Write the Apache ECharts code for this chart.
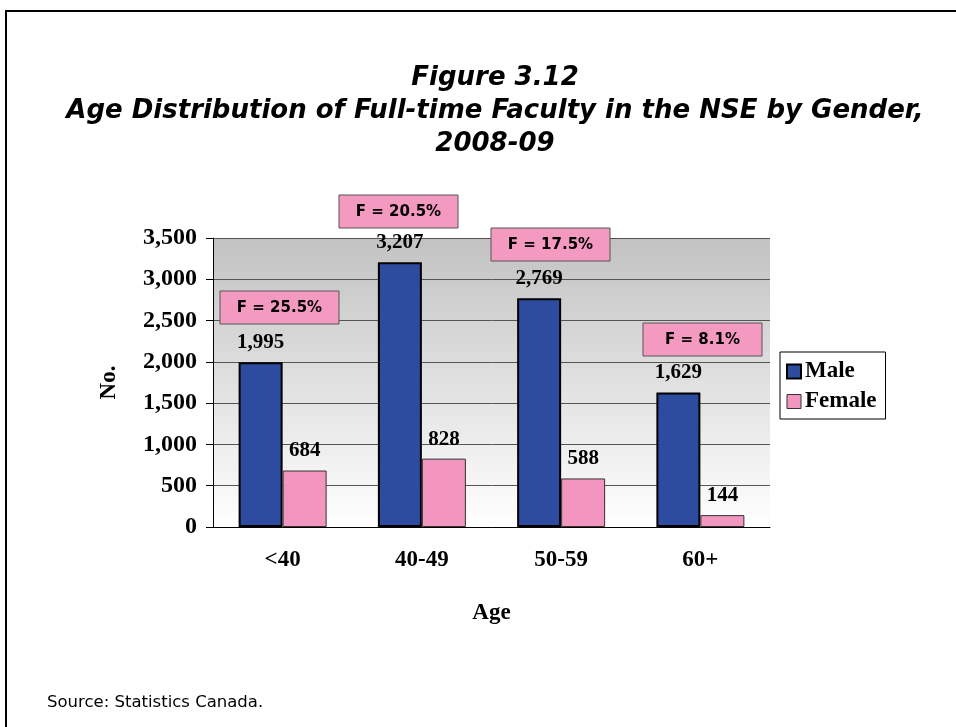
<!DOCTYPE html>
<html>
<head>
<meta charset="utf-8">
<script src="https://cdn.jsdelivr.net/npm/echarts@6/dist/echarts.min.js"></script>
<style>
html,body{margin:0;padding:0;background:#fff}
#chart{width:956px;height:727px}
</style>
</head>
<body>
<div id="chart"></div>
<script>
var ages = ['<40', '40-49', '50-59', '60+']
var male = [1995, 3207, 2769, 1629]
var female = [684, 828, 588, 144]
var femaleShare = ['F = 25.5%', 'F = 20.5%', 'F = 17.5%', 'F = 8.1%']
var yTicks = [0, 500, 1000, 1500, 2000, 2500, 3000, 3500]

var serif = '"Liberation Serif", "Times New Roman", serif'
var sans = '"DejaVu Sans", Verdana, sans-serif'

// where the pink boxes sit (top-left corner, px)
var boxPos = [[220, 291], [339, 195], [491, 228], [643, 323]]

var boxes = []
for (var i = 0; i < femaleShare.length; i++) {
    boxes.push({
        type: 'group',
        x: boxPos[i][0],
        y: boxPos[i][1],
        z: 100,
        children: [{
            type: 'rect',
            z: 100,
            shape: {x: 0, y: 0, width: 119, height: 33},
            style: {fill: '#f49ac1', stroke: '#555', lineWidth: 1}
        }, {
            type: 'text',
            z: 101,
            x: 59.5,
            y: 17,
            style: {text: femaleShare[i], fill: '#000', font: 'bold 15px ' + sans, align: 'center', verticalAlign: 'middle'}
        }]
    })
}

function fmt(v) {
    return v.toLocaleString('en-US')
}

var chart = echarts.init(document.getElementById('chart'))
chart.setOption({
    animation: false,
    backgroundColor: '#fff',
    title: {
        text: 'Figure 3.12\nAge Distribution of Full-time Faculty in the NSE by Gender,\n2008-09',
        left: 490,
        textAlign: 'center',
        top: 57,
        textStyle: {fontFamily: sans, fontWeight: 'bold', fontStyle: 'italic', fontSize: 26, lineHeight: 33, color: '#000'}
    },
    legend: {
        orient: 'vertical',
        left: 780,
        top: 352,
        padding: [8, 9, 6, 6],
        itemWidth: 14,
        itemHeight: 14,
        itemGap: 7,
        icon: 'rect',
        borderColor: '#000',
        borderWidth: 1,
        backgroundColor: '#fff',
        textStyle: {fontFamily: serif, fontWeight: 'bold', fontSize: 23, color: '#000', padding: [0, 0, 0, -1]},
        data: [
            {name: 'Male', itemStyle: {borderColor: '#000', borderWidth: 2}},
            {name: 'Female', itemStyle: {borderColor: '#333', borderWidth: 1}}
        ]
    },
    grid: {
        left: 213,
        top: 238,
        width: 557,
        height: 289,
        show: true,
        borderWidth: 0,
        backgroundColor: {
            type: 'linear', x: 0, y: 0, x2: 0, y2: 1,
            colorStops: [{offset: 0, color: '#c2c2c2'}, {offset: 1, color: '#ffffff'}]
        }
    },
    xAxis: {
        type: 'category',
        data: ages,
        name: 'Age',
        nameLocation: 'middle',
        nameGap: 75,
        nameTextStyle: {fontFamily: serif, fontWeight: 'bold', fontSize: 23, color: '#000'},
        axisLine: {lineStyle: {color: '#000', width: 1}},
        axisTick: {show: false},
        axisLabel: {fontFamily: serif, fontWeight: 'bold', fontSize: 23, color: '#000', margin: 22}
    },
    yAxis: {
        type: 'value',
        min: yTicks[0],
        max: yTicks[yTicks.length - 1],
        interval: 500,
        name: 'No.',
        nameLocation: 'middle',
        nameGap: 92,
        nameRotate: 90,
        nameTextStyle: {fontFamily: serif, fontWeight: 'bold', fontSize: 23, color: '#000'},
        axisLine: {show: true, lineStyle: {color: '#000', width: 1}},
        axisTick: {show: true, length: 7, lineStyle: {color: '#000'}},
        axisLabel: {fontFamily: serif, fontWeight: 'bold', fontSize: 24, color: '#000', margin: 16,
            formatter: function (v) { return fmt(v) }},
        splitLine: {lineStyle: {color: '#555', width: 1}}
    },
    series: [{
        name: 'Male',
        type: 'bar',
        data: male,
        barWidth: 44,
        barGap: '0%',
        itemStyle: {color: '#2e4c9f', borderColor: '#000', borderWidth: 2},
        label: {show: true, position: 'top', distance: 9, fontFamily: serif, fontWeight: 'bold', fontSize: 21, color: '#000',
            formatter: function (p) { return fmt(p.value) }}
    }, {
        name: 'Female',
        type: 'bar',
        data: female,
        barWidth: 44,
        itemStyle: {color: '#f296c0', borderColor: '#333', borderWidth: 1},
        label: {show: true, position: 'top', distance: 9, fontFamily: serif, fontWeight: 'bold', fontSize: 21, color: '#000',
            formatter: function (p) { return fmt(p.value) }}
    }],
    graphic: [{
        type: 'rect',
        shape: {x: 6, y: 11, width: 1000, height: 800},
        style: {fill: 'none', stroke: '#000', lineWidth: 2}
    }, {
        type: 'text',
        left: 47,
        top: 694,
        style: {text: 'Source: Statistics Canada.', fill: '#000', font: '16.5px ' + sans}
    }].concat(boxes)
})
</script>
</body>
</html>
